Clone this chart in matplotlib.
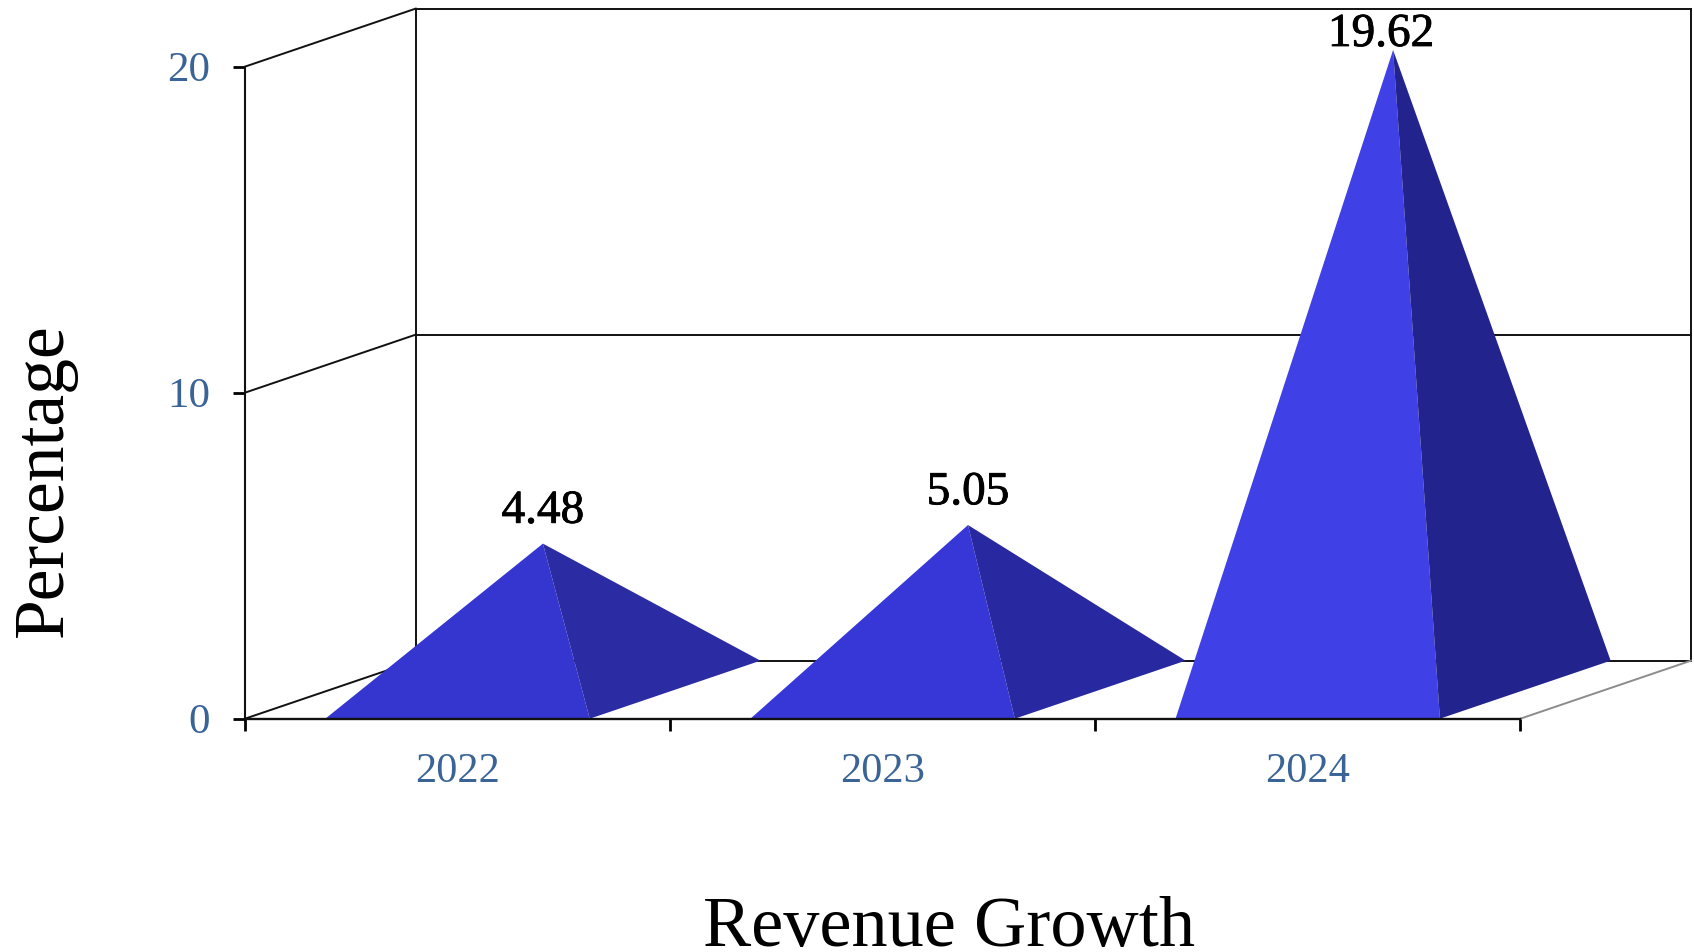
import matplotlib
matplotlib.use('Agg')
from matplotlib import pyplot as plt
from matplotlib import patheffects
from matplotlib.patches import Polygon

plt.rcParams['font.family'] = ['Liberation Serif', 'DejaVu Serif']

years = ['2022', '2023', '2024']
growth = [4.48, 5.05, 19.62]
y_ticks = [0, 10, 20]
x_label = 'Revenue Growth'
y_label = 'Percentage'

front_colors = ['#3535D0', '#3737D8', '#3F40E5']
side_colors = ['#2B2BA3', '#2828A0', '#23238E']

W, H = 1694, 952
fig = plt.figure(figsize=(W / 100, H / 100), dpi=100)

# plot area in pixels
left, right = 245, 1691
top, bottom = 8.6, 718.7
ax = fig.add_axes([left / W, 1 - bottom / H, (right - left) / W, (bottom - top) / H])

# depth of the fake 3d box in data units
depth_x = 0.4016
depth_y = 1.78
ax.set_xlim(0, len(years) + depth_x)
ax.set_ylim(0, y_ticks[-1] + depth_y)

line_color = '#111111'
line_w = 1.4

# ============= walls and floor ================
n = len(years)
for v in y_ticks:
    ax.plot([0, depth_x], [v, v + depth_y], color=line_color, lw=line_w, zorder=1, clip_on=False)
    ax.plot([depth_x, n + depth_x], [v + depth_y, v + depth_y], color=line_color, lw=line_w, zorder=1, clip_on=False)
ax.plot([depth_x, depth_x], [depth_y, y_ticks[-1] + depth_y], color=line_color, lw=line_w, zorder=1)
ax.plot([n + depth_x, n + depth_x], [depth_y, y_ticks[-1] + depth_y], color=line_color, lw=line_w, zorder=1, clip_on=False)
ax.plot([n, n + depth_x], [0, depth_y], color='#8C8C8C', lw=line_w, zorder=1, clip_on=False)

# ============= pyramids ================
base_w = 0.622
for i, v in enumerate(growth):
    x0 = i + 0.5 - base_w / 2
    x1 = i + 0.5 + base_w / 2
    apex = (i + 0.5 + depth_x / 2, v + depth_y / 2)
    ax.add_patch(Polygon([(x0, 0), (x1, 0), apex], closed=True, fc=front_colors[i], ec='none', zorder=2))
    ax.add_patch(Polygon([(x1, 0), (x1 + depth_x, depth_y), apex], closed=True, fc=side_colors[i], ec='none', zorder=2))

    # the tallest label runs into the top of the box so it sits lower and to the left
    if v > y_ticks[-1] - 1:
        offset = (-8.6, 2.9)
    else:
        offset = (0, 15)
    ax.annotate(f'{v:.2f}', xy=apex, xytext=offset, textcoords='offset points',
                ha='center', va='baseline', fontsize=34, color='black', zorder=3,
                path_effects=[patheffects.withStroke(linewidth=0.6, foreground='black')])

# ============= axes ================
for name in ['top', 'right']:
    ax.spines[name].set_visible(False)
ax.spines['bottom'].set_bounds(0, n)
ax.spines['left'].set_bounds(0, y_ticks[-1])
ax.spines['bottom'].set_linewidth(1.7)
ax.spines['left'].set_linewidth(1.5)
ax.spines['bottom'].set_color(line_color)
ax.spines['left'].set_color(line_color)

tick_color = '#3A6496'
ax.set_xticks(range(n + 1), labels=[])
ax.set_xticks([i + 0.5 for i in range(n)], labels=years, minor=True)
ax.set_yticks(y_ticks, labels=[str(v) for v in y_ticks])
ax.tick_params(axis='x', which='major', length=8.6, width=2, color='black')
ax.tick_params(axis='x', which='minor', length=0, pad=24.5, labelsize=30.5, labelcolor=tick_color)
ax.tick_params(axis='y', which='major', length=8.6, width=2, color='black', pad=16.5, labelsize=31, labelcolor=tick_color)

ax.set_xlabel(x_label, fontsize=52, color='black', va='baseline')
ax.xaxis.set_label_coords(949 / W, 1 - 946 / H, transform=fig.transFigure)
ax.set_ylabel(y_label, fontsize=51.5, color='black', va='center')
ax.yaxis.set_label_coords(44 / W, 1 - 480 / H, transform=fig.transFigure)

fig.savefig('out.png', dpi=100)
